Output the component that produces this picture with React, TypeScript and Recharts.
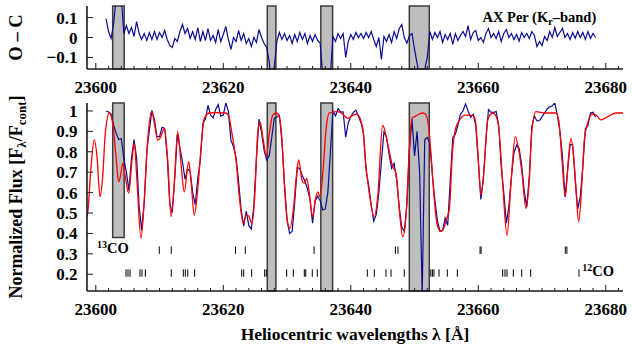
import React from 'react';
import { ComposedChart, Line, XAxis, YAxis, ReferenceArea, ReferenceDot, Scatter } from 'recharts';

const FONT = '"Liberation Serif", "Times New Roman", serif';
const AXIS_COLOR = '#1a1a1a';
const OBS_COLOR = '#0c0c92';
const MODEL_COLOR = '#ff0000';

// Synthetic model spectrum (wavelength in Angstrom, normalized flux)
const modelWavelength = [
  23598.62, 23598.73, 23599.25, 23599.76, 23600.19, 23600.66, 23601.08, 23601.49, 23602.12, 23602.65,
  23603.17, 23603.59, 23603.95, 23604.22, 23604.63, 23605.16, 23605.68, 23606.04, 23606.42, 23607.09,
  23607.61, 23608.14, 23608.77, 23609.29, 23609.71, 23610.07, 23610.75, 23611.28, 23611.8, 23612.31,
  23612.84, 23613.36, 23613.88, 23614.57, 23614.93, 23615.45, 23615.98, 23616.66, 23617.02, 23617.8,
  23618.85, 23620.42, 23620.85, 23621.36, 23621.99, 23622.51, 23623.14, 23623.56, 23623.98, 23624.5,
  23624.93, 23625.4, 23625.76, 23626.27, 23626.75, 23627.22, 23627.75, 23628.27, 23628.69, 23629.21,
  23629.57, 23630.1, 23630.46, 23630.98, 23631.51, 23631.83, 23632.35, 23632.71, 23633.08, 23633.49,
  23634.02, 23634.43, 23634.81, 23635.17, 23635.69, 23636.11, 23636.63, 23637.95, 23638.73, 23639.51,
  23640.39, 23640.93, 23641.87, 23642.38, 23642.9, 23643.69, 23644.22, 23645.0, 23645.79, 23646.57,
  23647.09, 23647.61, 23648.14, 23648.66, 23649.18, 23649.6, 23650.2, 23650.75, 23651.28, 23651.7,
  23652.22, 23652.58, 23653.1, 23653.63, 23654.15, 23654.67, 23655.0, 23655.45, 23655.98, 23656.5,
  23657.29, 23657.8, 23659.12, 23659.53, 23659.91, 23660.42, 23660.94, 23661.47, 23662.26, 23662.7,
  23663.2, 23663.83, 23664.5, 23665.13, 23665.8, 23666.34, 23666.85, 23667.48, 23668.0, 23668.42,
  23669.05, 23670.5, 23672.19, 23672.61, 23673.13, 23673.65, 23674.12, 23674.54, 23674.96, 23675.33,
  23675.75, 23676.22, 23676.63, 23677.16, 23677.84, 23678.46, 23679.25, 23680.3, 23681.6, 23682.7,
];
const modelFlux = [
  0.48, 0.5, 0.727, 0.858, 0.776, 0.58, 0.678, 0.89, 0.99, 0.94,
  0.776, 0.653, 0.695, 0.744, 0.678, 0.597, 0.76, 0.842, 0.678, 0.376,
  0.564, 0.858, 0.997, 0.92, 0.858, 0.866, 0.915, 0.76, 0.482, 0.645,
  0.9, 0.744, 0.604, 0.752, 0.66, 0.49, 0.613, 0.874, 0.964, 0.99,
  0.992, 0.99, 0.975, 0.89, 0.76, 0.58, 0.45, 0.49, 0.485, 0.45,
  0.58, 0.89, 0.948, 0.858, 0.78, 0.89, 0.98, 0.99, 0.98, 0.858,
  0.645, 0.45, 0.425, 0.515, 0.695, 0.76, 0.66, 0.645, 0.67, 0.597,
  0.482, 0.564, 0.604, 0.58, 0.727, 0.907, 0.99, 0.997, 0.985, 0.964,
  0.98, 0.985, 0.917, 0.727, 0.597, 0.48, 0.58, 0.93, 0.84, 0.727,
  0.695, 0.515, 0.384, 0.482, 0.81, 0.965, 0.975, 0.985, 0.99, 0.985,
  0.92, 0.79, 0.564, 0.433, 0.41, 0.433, 0.47, 0.515, 0.81, 0.92,
  0.964, 0.98, 0.978, 0.956, 0.81, 0.588, 0.727, 0.956, 0.99, 0.98,
  0.92, 0.645, 0.39, 0.645, 0.874, 0.81, 0.695, 0.523, 0.66, 0.907,
  0.997, 0.99, 0.99, 0.956, 0.76, 0.58, 0.76, 0.866, 0.776, 0.613,
  0.457, 0.629, 0.858, 0.94, 0.985, 0.98, 0.956, 0.972, 0.99, 0.99,
];

// Observed spectrum on a uniform 0.4 A pixel grid
const OBS_START = 23601.6;
const OBS_STEP = 0.4;
const observedFlux = [
  1.0, 0.995, 0.985, 0.93, 0.89, 0.86, 0.865, 0.765, 0.7, 0.61,
  0.77, 0.86, 0.77, 0.531, 0.416, 0.555, 0.8, 0.905, 1.003, 0.958,
  0.874, 0.874, 0.92, 0.915, 0.778, 0.55, 0.501, 0.678, 0.885, 0.82,
  0.75, 0.665, 0.716, 0.704, 0.6, 0.541, 0.67, 0.76, 0.94, 0.96,
  1.028, 0.98, 0.966, 1.007, 1.031, 0.975, 0.98, 1.04, 0.997, 0.857,
  0.825, 0.772, 0.655, 0.515, 0.436, 0.51, 0.438, 0.422, 0.54, 0.77,
  0.96, 0.895, 0.807, 0.76, 0.78, 0.87, 0.965, 0.97, 0.979, 0.85,
  0.644, 0.467, 0.4, 0.41, 0.55, 0.723, 0.717, 0.683, 0.656, 0.619,
  0.568, 0.45, 0.558, 0.583, 0.56, 0.515, 0.52, 0.6, 0.8, 1.0,
  0.975, 1.011, 0.995, 0.996, 0.872, 0.941, 0.973, 0.993, 1.004, 0.974,
  0.942, 0.888, 0.71, 0.637, 0.54, 0.46, 0.493, 0.6, 0.75, 0.897,
  0.872, 0.79, 0.72, 0.743, 0.662, 0.53, 0.43, 0.41, 0.542, 0.813,
  0.96, 0.78, 0.9, 0.7, 0.1, 0.86, 0.87, 0.84, 0.685, 0.56,
  0.46, 0.41, 0.415, 0.475, 0.44, 0.66, 0.87, 0.885, 0.93, 0.985,
  1.0, 1.035, 1.0, 0.969, 0.984, 0.93, 0.755, 0.567, 0.67, 0.86,
  1.007, 0.994, 0.992, 0.998, 0.93, 0.725, 0.6, 0.45, 0.531, 0.68,
  0.795, 0.832, 0.817, 0.736, 0.61, 0.53, 0.68, 0.925, 0.975, 0.951,
  0.953, 0.972, 0.99, 1.01, 1.02, 1.025, 1.04, 0.978, 0.9, 0.78,
  0.58, 0.704, 0.835, 0.835, 0.667, 0.52, 0.58, 0.728, 0.914, 0.928,
  0.99, 0.994, 0.97,
];
// Observed minus computed on the same grid
const residual = [
  0.095, 0.03, -0.005, 0.07, 0.2, 0.25, 0.2, 0.02, 0.06, 0.02,
  0.05, 0.005, 0.08, 0.02, -0.01, 0.02, -0.015, 0.025, -0.01, 0.03,
  -0.01, 0.025, 0.0, 0.035, -0.01, -0.04, -0.05, -0.005, -0.02, 0.03,
  0.065, 0.02, 0.045, -0.005, 0.03, -0.01, 0.05, -0.02, 0.03, -0.015,
  0.045, -0.015, 0.01, -0.025, 0.04, -0.02, 0.015, 0.055, -0.01, -0.06,
  0.0, -0.02, 0.035, -0.015, 0.02, -0.03, -0.005, -0.045, 0.0, -0.025,
  0.04, 0.0, -0.03, -0.05, -0.12, -0.25, -0.15, -0.02, 0.025, -0.01,
  0.02, -0.015, 0.01, -0.03, 0.015, -0.02, 0.025, -0.01, 0.02, -0.03,
  0.01, -0.02, 0.015, -0.015, -0.03, -0.19, -0.34, -0.35, -0.19, 0.005,
  -0.02, 0.02, -0.005, 0.02, -0.1, -0.02, 0.015, -0.01, 0.025, 0.0,
  0.02, -0.005, 0.025, 0.0, 0.03, -0.01, -0.045, 0.0, -0.11, 0.005,
  -0.02, 0.015, -0.025, 0.03, -0.005, 0.045, 0.065, 0.0, -0.028, 0.01,
  0.02, -0.06, -0.13, -0.2, -0.3, -0.16, -0.1, 0.03, -0.01, 0.025,
  0.0, 0.03, -0.025, 0.015, -0.01, 0.02, -0.035, 0.02, -0.015, 0.01,
  0.03, 0.005, 0.06, -0.01, 0.025, 0.035, -0.015, 0.0, -0.025, 0.02,
  0.045, 0.0, 0.02, -0.005, 0.03, -0.02, 0.02, 0.04, 0.0, 0.02,
  -0.01, 0.015, -0.018, 0.025, 0.0, 0.02, -0.005, 0.03, 0.01, -0.045,
  -0.02, -0.04, 0.005, -0.015, 0.03, 0.0, 0.05, 0.005, 0.025, 0.045,
  0.0, 0.02, -0.01, 0.025, -0.003, 0.03, 0.0, 0.025, -0.01, 0.03,
  -0.005, 0.02, 0.0,
];

// Line identifications
const co13Lines = [23609.96, 23611.84, 23621.92, 23623.45, 23634.24, 23647.0, 23647.4, 23660.28, 23660.44, 23673.65, 23673.9];
const co12Lines = [
  23604.74, 23605.05, 23605.37, 23606.93, 23607.25, 23607.77, 23611.84, 23613.73, 23614.04, 23614.42,
  23615.51, 23622.89, 23623.2, 23624.45, 23626.49, 23626.75, 23629.94, 23630.98, 23632.71, 23632.93,
  23633.96, 23634.75, 23642.59, 23643.69, 23645.52, 23646.31, 23648.39, 23652.55, 23652.8, 23653.05,
  23653.84, 23655.14, 23656.71, 23663.83, 23664.19, 23664.5, 23665.49, 23666.81, 23668.22, 23675.8,
];
const CO13_LEVEL = 0.318;
const CO12_LEVEL = 0.206;

// Regions excluded from the fit
const maskedRegions: [number, number][] = [
  [23602.65, 23604.45],
  [23626.9, 23628.25],
  [23635.3, 23637.15],
  [23649.18, 23652.31],
];
const FIRST_MASK_FLOOR = 0.38;

const X_DOMAIN: [number, number] = [23598.62, 23682.7];
const FLUX_DOMAIN: [number, number] = [0.118, 1.039];
const RESID_DOMAIN: [number, number] = [-0.158, 0.158];
const majorWavelengths = [23600, 23620, 23640, 23660, 23680];
const fluxTicks = [0.2, 0.3, 0.4, 0.5, 0.6, 0.7, 0.8, 0.9, 1];
const fluxTickLabels = ['0.2', '0.3', '0.4', '0.5', '0.6', '0.7', '0.8', '0.9', '1'];
const residTicks = [-0.1, 0, 0.1];
const residTickLabels = ['\u22120.1', '0', '0.1'];

const wavelengthTicks: number[] = [];
for (let t = majorWavelengths[0]; t <= X_DOMAIN[1]; t += 2) wavelengthTicks.push(t);

const modelData = modelWavelength.map((w, i) => ({ w, f: modelFlux[i] }));
const obsData = observedFlux.map((f, i) => ({ w: OBS_START + OBS_STEP * i, f }));
const residData = residual.map((f, i) => ({ w: OBS_START + OBS_STEP * i, f }));
const co13Data = co13Lines.map((w) => ({ w, f: CO13_LEVEL }));
const co12Data = co12Lines.map((w) => ({ w, f: CO12_LEVEL }));

const txt = (size: number) => ({ fontFamily: FONT, fontWeight: 700, fontSize: size, fill: '#000' });
const frame = { stroke: AXIS_COLOR, strokeWidth: 1.6 };

const isMajor = (v: number) => majorWavelengths.some((m) => Math.abs(m - v) < 1e-6);

const xTick = (side: 'bottom' | 'top', labelled: boolean) => (props: any) => {
  const { x, y, payload } = props;
  const v = payload.value as number;
  const major = isMajor(v);
  const dir = side === 'bottom' ? -1 : 1;
  return (
    <g>
      <line x1={x} x2={x} y1={y} y2={y + dir * (major ? 6 : 3)} stroke={AXIS_COLOR} strokeWidth={1} />
      {labelled && major ? (
        <text x={x} y={y + 23.5} textAnchor="middle" style={txt(17)}>
          {v}
        </text>
      ) : null}
    </g>
  );
};

const yTick = (side: 'left' | 'right', ticks: number[], labels: string[] | null) => (props: any) => {
  const { x, y, payload } = props;
  const dir = side === 'left' ? 1 : -1;
  const idx = ticks.findIndex((t) => Math.abs(t - payload.value) < 1e-9);
  return (
    <g>
      <line x1={x} x2={x + dir * 6} y1={y} y2={y} stroke={AXIS_COLOR} strokeWidth={1} />
      {labels && idx >= 0 ? (
        <text x={x - 9.5} y={y + 6} textAnchor="end" style={txt(17)}>
          {labels[idx]}
        </text>
      ) : null}
    </g>
  );
};

const lineMark = (props: any) => {
  const { cx, cy } = props;
  return <line x1={cx} x2={cx} y1={cy - 3.7} y2={cy + 3.7} stroke="#000" strokeWidth={1} />;
};

const maskFill = '#bebebe';
const maskStroke = '#3c3c3c';

// The lower panel's svg starts above its plot area so the long rotated title fits inside it.
const LOWER_TOP = 60;

export default function App() {
  return (
    <div style={{ position: 'absolute', left: 0, top: 0, width: 632, height: 349, background: '#fff' }}>
      <div style={{ position: 'absolute', left: 0, top: 0 }}>
        <ComposedChart width={632} height={100} margin={{ top: 6, right: 9, bottom: 0, left: 0 }}>
          <XAxis
            dataKey="w"
            type="number"
            domain={X_DOMAIN}
            allowDataOverflow
            ticks={wavelengthTicks}
            interval={0}
            height={31}
            tickSize={0}
            tickMargin={0}
            tickLine={false}
            axisLine={frame}
            tick={xTick('bottom', true)}
          />
          <XAxis
            xAxisId="top"
            orientation="top"
            dataKey="w"
            type="number"
            domain={X_DOMAIN}
            allowDataOverflow
            ticks={wavelengthTicks}
            interval={0}
            height={0}
            tickSize={0}
            tickMargin={0}
            tickLine={false}
            axisLine={frame}
            tick={xTick('top', false)}
          />
          <YAxis
            type="number"
            domain={RESID_DOMAIN}
            allowDataOverflow
            ticks={residTicks}
            interval={0}
            width={87}
            tickSize={0}
            tickMargin={0}
            tickLine={false}
            axisLine={frame}
            tick={yTick('left', residTicks, residTickLabels)}
            label={(p: any) => {
              const vb = p.viewBox;
              const cy = vb.y + vb.height / 2;
              return (
                <text x={22} y={cy} textAnchor="middle" transform={`rotate(-90, 22, ${cy})`} style={txt(18.5)}>
                  O – C
                </text>
              );
            }}
          />
          <YAxis
            yAxisId="right"
            orientation="right"
            type="number"
            domain={RESID_DOMAIN}
            allowDataOverflow
            ticks={residTicks}
            interval={0}
            width={0}
            tickSize={0}
            tickMargin={0}
            tickLine={false}
            axisLine={frame}
            tick={yTick('right', residTicks, null)}
          />
          {maskedRegions.map(([a, b], i) => (
            <ReferenceArea key={i} x1={a} x2={b} fill={maskFill} fillOpacity={1} stroke={maskStroke} strokeWidth={1.5} />
          ))}
          <Line data={residData} dataKey="f" type="linear" stroke={OBS_COLOR} strokeWidth={1.2} dot={false} isAnimationActive={false} />
          <ReferenceDot
            x={23678.5}
            y={0.078}
            r={0}
            fill="none"
            stroke="none"
            label={(p: any) => {
              const vb = p.viewBox;
              return (
                <text x={vb.x} y={vb.y} textAnchor="end" style={txt(14.5)}>
                  AX Per (K
                  <tspan dy={3} fontSize={10}>r</tspan>
                  <tspan dy={-3}>–band)</tspan>
                </text>
              );
            }}
          />
        </ComposedChart>
      </div>
      <div style={{ position: 'absolute', left: 0, top: LOWER_TOP }}>
        <ComposedChart width={632} height={349 - LOWER_TOP} margin={{ top: 103 - LOWER_TOP, right: 9, bottom: 0, left: 0 }}>
          <XAxis
            dataKey="w"
            type="number"
            domain={X_DOMAIN}
            allowDataOverflow
            ticks={wavelengthTicks}
            interval={0}
            height={58}
            tickSize={0}
            tickMargin={0}
            tickLine={false}
            axisLine={frame}
            tick={xTick('bottom', true)}
            label={(p: any) => {
              const vb = p.viewBox;
              return (
                <text x={vb.x + vb.width / 2} y={vb.y + 49} textAnchor="middle" style={txt(17.5)}>
                  Heliocentric wavelengths λ [Å]
                </text>
              );
            }}
          />
          <XAxis
            xAxisId="top"
            orientation="top"
            dataKey="w"
            type="number"
            domain={X_DOMAIN}
            allowDataOverflow
            ticks={wavelengthTicks}
            interval={0}
            height={0}
            tickSize={0}
            tickMargin={0}
            tickLine={false}
            axisLine={frame}
            tick={xTick('top', false)}
          />
          <YAxis
            type="number"
            domain={FLUX_DOMAIN}
            allowDataOverflow
            ticks={fluxTicks}
            interval={0}
            width={87}
            tickSize={0}
            tickMargin={0}
            tickLine={false}
            axisLine={frame}
            tick={yTick('left', fluxTicks, fluxTickLabels)}
            label={(p: any) => {
              const vb = p.viewBox;
              const cy = vb.y + vb.height / 2;
              return (
                <text x={22} y={cy} textAnchor="middle" transform={`rotate(-90, 22, ${cy})`} style={txt(18)}>
                  Normalized Flux [F
                  <tspan dy={4} fontSize={13}>λ</tspan>
                  <tspan dy={-4}>/F</tspan>
                  <tspan dy={4} fontSize={13}>cont</tspan>
                  <tspan dy={-4}>]</tspan>
                </text>
              );
            }}
          />
          <YAxis
            yAxisId="right"
            orientation="right"
            type="number"
            domain={FLUX_DOMAIN}
            allowDataOverflow
            ticks={fluxTicks}
            interval={0}
            width={0}
            tickSize={0}
            tickMargin={0}
            tickLine={false}
            axisLine={frame}
            tick={yTick('right', fluxTicks, null)}
          />
          {maskedRegions.map(([a, b], i) => (
            <ReferenceArea
              key={i}
              x1={a}
              x2={b}
              y1={i === 0 ? FIRST_MASK_FLOOR : FLUX_DOMAIN[0]}
              y2={FLUX_DOMAIN[1]}
              fill={maskFill}
              fillOpacity={1}
              stroke={maskStroke}
              strokeWidth={1.5}
            />
          ))}
          <Line data={obsData} dataKey="f" type="linear" stroke={OBS_COLOR} strokeWidth={1.2} dot={false} isAnimationActive={false} />
          <Line data={modelData} dataKey="f" type="monotone" stroke={MODEL_COLOR} strokeWidth={1.3} dot={false} isAnimationActive={false} />
          <Scatter data={co13Data} dataKey="f" shape={lineMark} isAnimationActive={false} />
          <Scatter data={co12Data} dataKey="f" shape={lineMark} isAnimationActive={false} />
          <ReferenceDot
            x={23600.2}
            y={0.302}
            r={0}
            fill="none"
            stroke="none"
            label={(p: any) => {
              const vb = p.viewBox;
              return (
                <text x={vb.x} y={vb.y} textAnchor="start" style={txt(14.5)}>
                  <tspan dy={-5} fontSize={10}>13</tspan>
                  <tspan dy={5}>CO</tspan>
                </text>
              );
            }}
          />
          <ReferenceDot
            x={23676.3}
            y={0.191}
            r={0}
            fill="none"
            stroke="none"
            label={(p: any) => {
              const vb = p.viewBox;
              return (
                <text x={vb.x} y={vb.y} textAnchor="start" style={txt(14.5)}>
                  <tspan dy={-5} fontSize={10}>12</tspan>
                  <tspan dy={5}>CO</tspan>
                </text>
              );
            }}
          />
        </ComposedChart>
      </div>
    </div>
  );
}
